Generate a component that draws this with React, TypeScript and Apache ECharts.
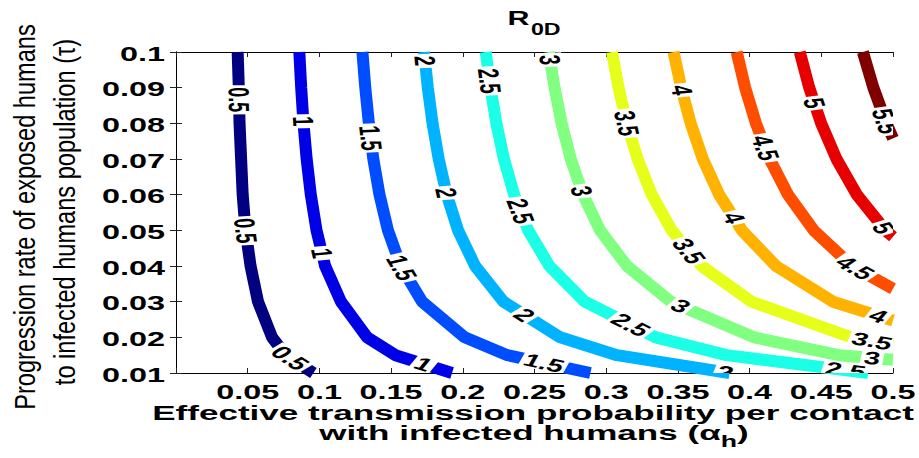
import React, { useEffect, useRef } from "react";
import * as echarts from "echarts";

// ---- data ----
const levels = [0.5, 1, 1.5, 2, 2.5, 3, 3.5, 4, 4.5, 5, 5.5];

// contour lines: [alpha_h, tau]
const c05 = [[0.043, 0.1], [0.0438, 0.09], [0.0443, 0.08], [0.0454, 0.07], [0.0465, 0.06], [0.0485, 0.05], [0.052, 0.04], [0.0572, 0.03], [0.067, 0.02], [0.0765, 0.015], [0.0958, 0.01]];
const c10 = [[0.086, 0.1], [0.0873, 0.09], [0.0889, 0.08], [0.0911, 0.07], [0.094, 0.06], [0.098, 0.05], [0.104, 0.04], [0.115, 0.03], [0.1333, 0.02], [0.153, 0.015], [0.1925, 0.01]];
const c15 = [[0.13, 0.1], [0.132, 0.09], [0.1345, 0.08], [0.1376, 0.07], [0.1419, 0.06], [0.1478, 0.05], [0.1567, 0.04], [0.1716, 0.03], [0.2013, 0.02], [0.2311, 0.015], [0.289, 0.01]];
const c20 = [[0.173, 0.1], [0.1756, 0.09], [0.1789, 0.08], [0.1832, 0.07], [0.1888, 0.06], [0.1967, 0.05], [0.2086, 0.04], [0.2284, 0.03], [0.2679, 0.02], [0.3075, 0.015], [0.386, 0.01]];
const c25 = [[0.216, 0.1], [0.2193, 0.09], [0.2234, 0.08], [0.2287, 0.07], [0.2358, 0.06], [0.2456, 0.05], [0.2604, 0.04], [0.2851, 0.03], [0.3345, 0.02], [0.3839, 0.015], [0.4827, 0.01]];
const c30 = [[0.26, 0.1], [0.264, 0.09], [0.2689, 0.08], [0.2753, 0.07], [0.2838, 0.06], [0.2957, 0.05], [0.3145, 0.04], [0.345, 0.03], [0.403, 0.02], [0.4622, 0.015], [0.5, 0.0137]];
const c35 = [[0.304, 0.1], [0.3086, 0.09], [0.3144, 0.08], [0.3219, 0.07], [0.3318, 0.06], [0.3457, 0.05], [0.3665, 0.04], [0.4013, 0.03], [0.4708, 0.02], [0.5, 0.018]];
const c40 = [[0.347, 0.1], [0.3523, 0.09], [0.3589, 0.08], [0.3674, 0.07], [0.3788, 0.06], [0.3946, 0.05], [0.4184, 0.04], [0.4581, 0.03], [0.5, 0.0247]];
const c45 = [[0.391, 0.1], [0.3969, 0.09], [0.4044, 0.08], [0.414, 0.07], [0.4268, 0.06], [0.4447, 0.05], [0.4714, 0.04], [0.5, 0.0336]];
const c50 = [[0.435, 0.1], [0.4416, 0.09], [0.4499, 0.08], [0.4606, 0.07], [0.4748, 0.06], [0.4947, 0.05], [0.5, 0.0482]];
const c55 = [[0.479, 0.1], [0.4863, 0.09], [0.4954, 0.08], [0.5, 0.0758]];
const contourSets = [c05, c10, c15, c20, c25, c30, c35, c40, c45, c50, c55];

// inline contour labels: [level, tau]
const labelSpots = [
  [0.5, 0.0866], [0.5, 0.0499], [0.5, 0.0142],
  [1, 0.0806], [1, 0.0436], [1, 0.0125],
  [1.5, 0.0759], [1.5, 0.0395], [1.5, 0.0128],
  [2, 0.0975], [2, 0.0605], [2, 0.0263], [2, 0.0102],
  [2.5, 0.0919], [2.5, 0.0554], [2.5, 0.0235], [2.5, 0.0108],
  [3, 0.0978], [3, 0.061], [3, 0.0288], [3, 0.0142],
  [3.5, 0.08], [3.5, 0.0442], [3.5, 0.019],
  [4, 0.0893], [4, 0.0535], [4, 0.026],
  [4.5, 0.0731], [4.5, 0.0395],
  [5, 0.0857], [5, 0.0507],
  [5.5, 0.0806],
];

const xTickVals = [0.05, 0.1, 0.15, 0.2, 0.25, 0.3, 0.35, 0.4, 0.45, 0.5];
const xTickLabels = ["0.05", "0.1", "0.15", "0.2", "0.25", "0.3", "0.35", "0.4", "0.45", "0.5"];
const yTickVals = [0.01, 0.02, 0.03, 0.04, 0.05, 0.06, 0.07, 0.08, 0.09, 0.1];
const yTickLabels = ["0.01", "0.02", "0.03", "0.04", "0.05", "0.06", "0.07", "0.08", "0.09", "0.1"];

// ---- styles ----
const jetColors = ["#000080", "#0000E6", "#004DFF", "#00B3FF", "#1AFFE6", "#80FF80", "#E6FF1A", "#FFB300", "#FF4D00", "#E60000", "#800000"];
const FF = '"Liberation Sans", Arial, Helvetica, sans-serif';
const STRETCH = 1.62;

function renderLabel(params: any, api: any) {
  const level = api.value(0);
  const tau = api.value(1);
  const pts = contourSets[levels.indexOf(level)];
  let i = 0;
  for (let k = 0; k < pts.length - 1; k++) {
    if (pts[k][1] >= tau && pts[k + 1][1] <= tau) { i = k; break; }
    i = k;
  }
  const p0 = pts[i], p1 = pts[i + 1];
  const t = (p0[1] - tau) / (p0[1] - p1[1]);
  const alpha = p0[0] + t * (p1[0] - p0[0]);
  const p = api.coord([alpha, tau]);
  const a = api.coord(p0);
  const b = api.coord(p1);
  const ang = Math.atan2(STRETCH * (b[1] - a[1]), b[0] - a[0]);
  const cs = params.coordSys;
  return {
    type: "group",
    clipPath: { type: "rect", shape: { x: cs.x, y: cs.y, width: cs.width, height: cs.height } },
    children: [
      {
        type: "group",
        x: p[0],
        y: p[1],
        scaleX: STRETCH,
        children: [
          {
            type: "text",
            rotation: -ang,
            style: {
              text: String(level),
              font: `bold 18px ${FF}`,
              fill: "#000",
              align: "center",
              verticalAlign: "middle",
              textAlign: "center",
              textVerticalAlign: "middle",
              backgroundColor: "#fff",
              padding: [0, 2],
              lineHeight: 15,
            },
          },
        ],
      },
    ],
  };
}

export default function App() {
  const ref = useRef<HTMLDivElement>(null);
  useEffect(() => {
    const chart = echarts.init(ref.current as HTMLDivElement, undefined, { renderer: "svg" });
    const axisCommon = {
      type: "value" as const,
      splitLine: { show: false },
      axisLine: { show: true, lineStyle: { color: "#000", width: 1 } },
      axisLabel: { show: false },
    };
    const option: any = {
      animation: false,
      grid: { left: 176, right: 26, top: 52, bottom: 85 },
      xAxis: [
        { ...axisCommon, min: 0, max: 0.5, interval: 0.05, position: "bottom", axisTick: { inside: true, length: 5, lineStyle: { color: "#222" } } },
        { ...axisCommon, min: 0, max: 0.5, interval: 0.05, position: "top", axisTick: { inside: true, length: 5, lineStyle: { color: "#222" } } },
      ],
      yAxis: [
        { ...axisCommon, min: 0.01, max: 0.1, interval: 0.01, position: "left", axisTick: { inside: true, length: 6, lineStyle: { color: "#222" } } },
        { ...axisCommon, min: 0.01, max: 0.1, interval: 0.01, position: "right", axisTick: { inside: true, length: 6, lineStyle: { color: "#222" } } },
      ],
      series: [
        ...contourSets.map((pts, i) => ({
          type: "line",
          name: String(levels[i]),
          data: pts,
          showSymbol: false,
          symbol: "none",
          silent: true,
          clip: true,
          lineStyle: { width: 12, color: jetColors[i], cap: "butt", join: "bevel" },
        })),
        {
          type: "custom",
          coordinateSystem: "cartesian2d",
          data: labelSpots,
          silent: true,
          renderItem: renderLabel,
          z: 5,
        },
      ],
    };
    chart.setOption(option);

    const els: any[] = [];
    const txt = (x: number, y: number, sx: number, style: any, rotation = 0) => ({
      type: "group",
      x,
      y,
      scaleX: sx,
      z: 10,
      children: [{ type: "text", rotation, style: { fill: "#000", ...style } }],
    });
    xTickVals.forEach((v, i) => {
      const p = chart.convertToPixel({ gridIndex: 0 }, [v, 0.01]) as number[];
      els.push(txt(p[0], p[1] + 19, STRETCH, {
        text: xTickLabels[i], font: `bold 20px ${FF}`,
        align: "center", verticalAlign: "middle", textAlign: "center", textVerticalAlign: "middle",
      }));
    });
    yTickVals.forEach((v, i) => {
      const p = chart.convertToPixel({ gridIndex: 0 }, [0, v]) as number[];
      els.push(txt(p[0] - 11, p[1] + 2, STRETCH, {
        text: yTickLabels[i], font: `bold 20px ${FF}`,
        align: "right", verticalAlign: "middle", textAlign: "right", textVerticalAlign: "middle",
      }));
    });
    // title R_0D
    els.push(txt(534, 22, 1.45, {
      text: "{r|R}{s|0D}",
      align: "center", verticalAlign: "middle", textAlign: "center", textVerticalAlign: "middle",
      rich: {
        r: { fontSize: 21, fontWeight: "bold", fontFamily: FF, verticalAlign: "top" },
        s: { fontSize: 16, fontWeight: "bold", fontFamily: FF, verticalAlign: "bottom", padding: [14, 0, 0, 1] },
      },
    }));
    // x-axis title
    els.push(txt(533, 412.5, 1.67, {
      text: "Effective transmission probability per contact", font: `bold 21px ${FF}`,
      align: "center", verticalAlign: "middle", textAlign: "center", textVerticalAlign: "middle",
    }));
    els.push(txt(534, 436, 1.67, {
      text: "{m|with infected humans (α}{s|h}{m|)}",
      align: "center", verticalAlign: "middle", textAlign: "center", textVerticalAlign: "middle",
      rich: {
        m: { fontSize: 21, fontWeight: "bold", fontFamily: FF, verticalAlign: "top" },
        s: { fontSize: 16, fontWeight: "bold", fontFamily: FF, verticalAlign: "bottom", padding: [12, 0, 0, 0] },
      },
    }));
    // y-axis title (two lines, rotated)
    els.push(txt(24, 217, 1.28, {
      text: "Progression rate of exposed humans", font: `normal 23.6px ${FF}`,
      align: "center", verticalAlign: "middle", textAlign: "center", textVerticalAlign: "middle",
    }, Math.PI / 2));
    els.push(txt(64, 212, 1.28, {
      text: "to infected humans population (τ)", font: `normal 23.6px ${FF}`,
      align: "center", verticalAlign: "middle", textAlign: "center", textVerticalAlign: "middle",
    }, Math.PI / 2));
    chart.setOption({ graphic: els });

    return () => chart.dispose();
  }, []);
  return <div ref={ref} style={{ position: "absolute", left: 0, top: 0, width: 919, height: 458 }} />;
}
